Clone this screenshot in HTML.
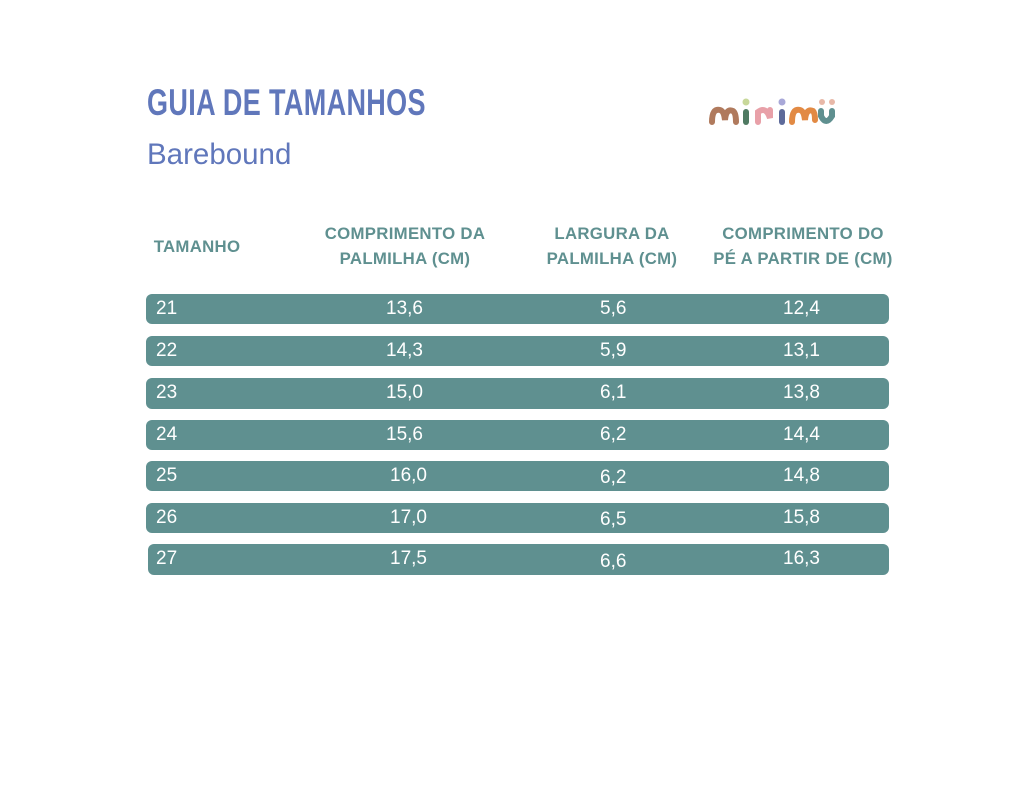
<!DOCTYPE html>
<html><head><meta charset="utf-8"><style>
body{margin:0;width:1024px;height:800px;background:#fff;position:relative;overflow:hidden;font-family:"Liberation Sans",sans-serif}
.a{position:absolute}
.t{left:147px;top:82px;color:#6077bb;font-weight:bold;font-size:37px;transform-origin:0 0;transform:scaleX(0.73);letter-spacing:0.5px;white-space:nowrap}
.s{left:147px;top:138px;color:#6077bb;font-size:29.5px}
.h{color:#5f9090;font-weight:bold;font-size:16.8px;text-align:center;line-height:25px;letter-spacing:0.3px;white-space:nowrap}
.r{left:146px;width:743px;height:30px;background:#5f9090;border-radius:6px;color:#fff;font-size:19px}
.r span{position:absolute;top:4px}
</style></head><body>
<div class="a t">GUIA DE TAMANHOS</div>
<div class="a s">Barebound</div>
<svg class="a" style="left:708px;top:96px" width="130" height="30">
<path d="M4 26 Q4 12 12 14 Q16 15 17 24 Q18 12 25 15 Q28 17 28 26" stroke="#b07a5d" stroke-width="6" fill="none" stroke-linecap="round"/>
<line x1="38" y1="16" x2="38" y2="26" stroke="#4f7a62" stroke-width="6" stroke-linecap="round"/>
<circle cx="38" cy="6" r="3.5" fill="#c8d89a"/>
<path d="M50 26 L50 16 Q58 10 62 22 L62 14" stroke="#e8a0a8" stroke-width="6" fill="none" stroke-linecap="round"/>
<line x1="74" y1="16" x2="74" y2="26" stroke="#5d6a9a" stroke-width="6" stroke-linecap="round"/>
<circle cx="74" cy="6" r="3.5" fill="#a8a8d8"/>
<path d="M84 26 Q84 12 92 14 Q96 15 97 24 Q98 12 105 15 Q107 17 107 24" stroke="#e28a44" stroke-width="6" fill="none" stroke-linecap="round"/>
<path d="M113 15 L113 20 Q118 30 124 20 L124 15" stroke="#5f9090" stroke-width="6" fill="none" stroke-linecap="round"/>
<circle cx="114" cy="6" r="3" fill="#e8b8a8"/><circle cx="124" cy="6" r="3" fill="#e8b8a8"/>
</svg>
<div class="a h" style="left:147px;top:234px;width:100px">TAMANHO</div>
<div class="a h" style="left:305px;top:221px;width:200px">COMPRIMENTO DA<br>PALMILHA (CM)</div>
<div class="a h" style="left:512px;top:221px;width:200px">LARGURA DA<br>PALMILHA (CM)</div>
<div class="a h" style="left:703px;top:221px;width:200px">COMPRIMENTO DO<br>PÉ A PARTIR DE (CM)</div>

<div class="a r" style="top:294px"><span style="left:10px">21</span><span style="left:240px">13,6</span><span style="left:454px">5,6</span><span style="left:637px">12,4</span></div>
<div class="a r" style="top:336px"><span style="left:10px">22</span><span style="left:240px">14,3</span><span style="left:454px">5,9</span><span style="left:637px">13,1</span></div>
<div class="a r" style="top:378px;height:31px"><span style="left:10px">23</span><span style="left:240px">15,0</span><span style="left:454px">6,1</span><span style="left:637px">13,8</span></div>
<div class="a r" style="top:420px"><span style="left:10px">24</span><span style="left:240px">15,6</span><span style="left:454px">6,2</span><span style="left:637px">14,4</span></div>
<div class="a r" style="top:461px"><span style="left:10px">25</span><span style="left:244px">16,0</span><span style="left:454px;top:6px">6,2</span><span style="left:637px">14,8</span></div>
<div class="a r" style="top:503px"><span style="left:10px">26</span><span style="left:244px">17,0</span><span style="left:454px;top:6px">6,5</span><span style="left:637px">15,8</span></div>
<div class="a r" style="top:544px;left:148px;width:741px;height:31px"><span style="left:8px">27</span><span style="left:242px">17,5</span><span style="left:452px;top:7px">6,6</span><span style="left:635px">16,3</span></div>
</body></html>
